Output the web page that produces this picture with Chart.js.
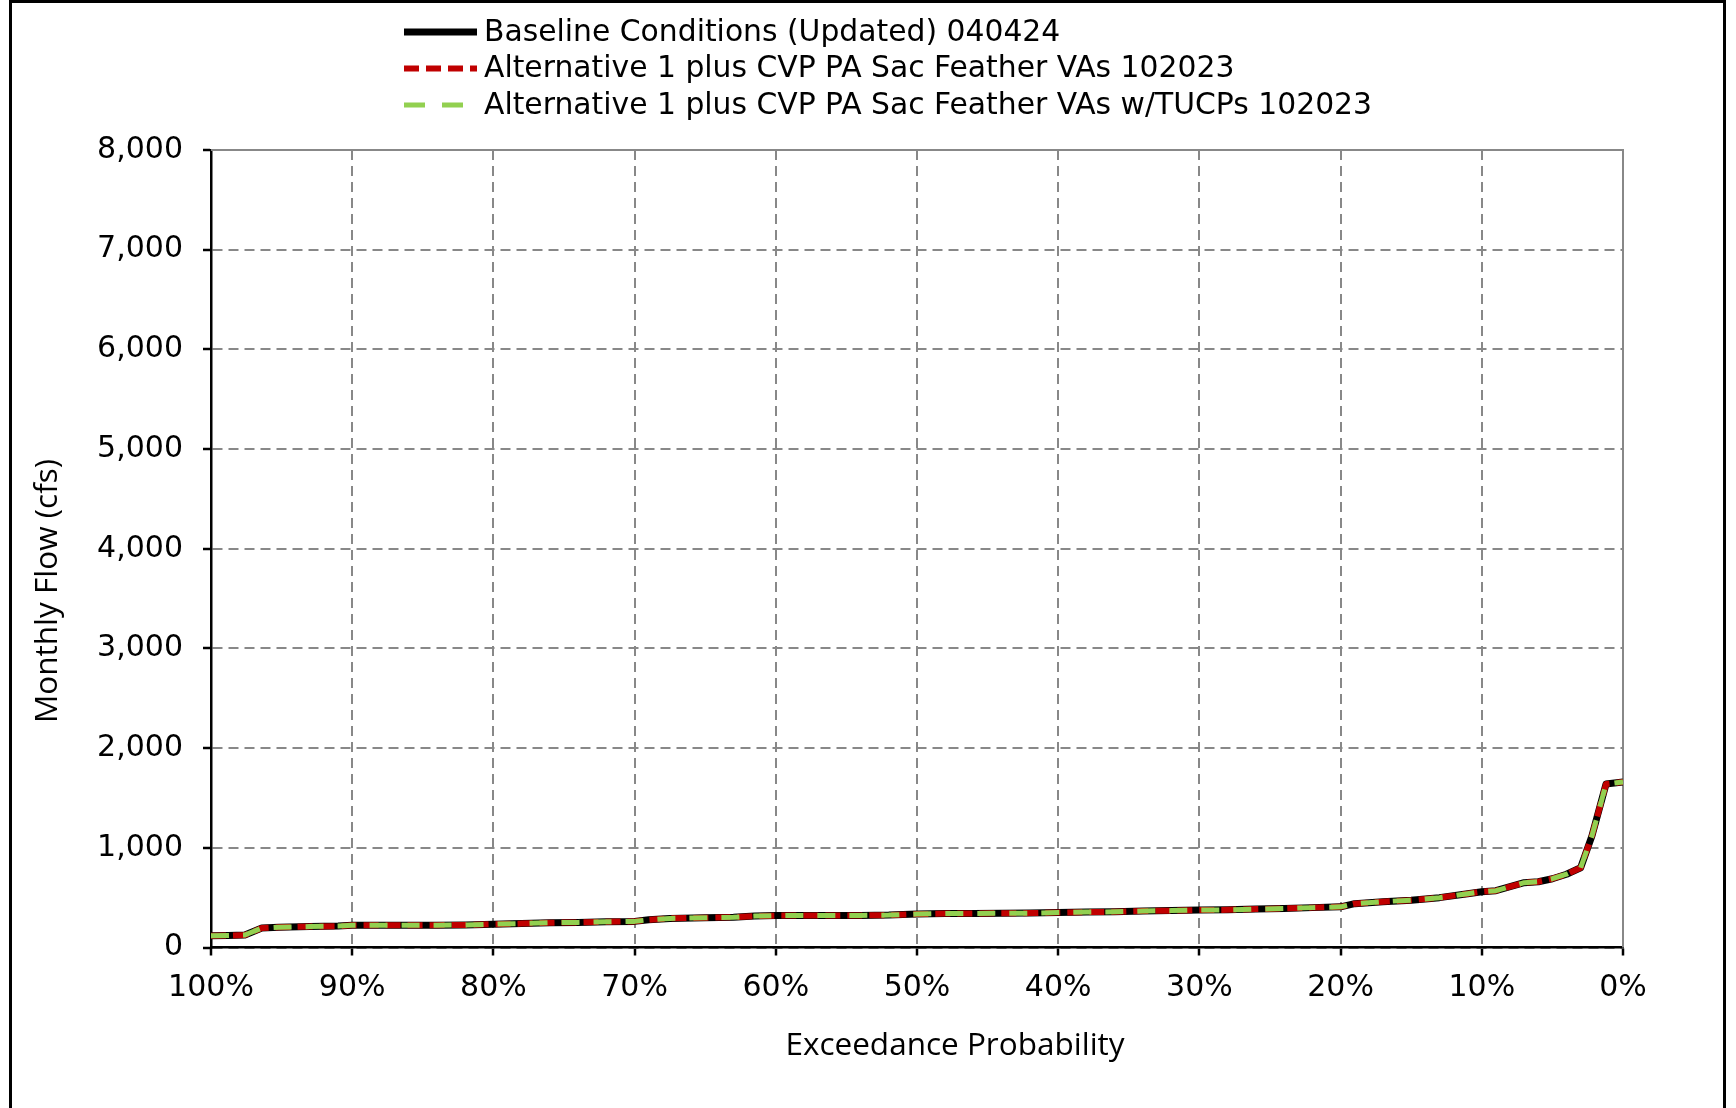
<!DOCTYPE html>
<html>
<head>
<meta charset="utf-8">
<title>Monthly Flow Exceedance</title>
<script src="https://cdn.jsdelivr.net/npm/chart.js@4.4.1/dist/chart.umd.min.js"></script>
<style>
  html, body { margin: 0; padding: 0; background: #fff; }
  canvas { display: block; }
</style>
</head>
<body>
<canvas id="chart" width="1736" height="1108"></canvas>
<script>
// Exceedance probability (%) for each sorted monthly value
const exceedance = [100, 98.8, 97.6, 96.4, 95.2, 93, 91, 90, 88, 86, 84, 82, 80, 78, 76, 74, 72, 70, 69, 67.5, 65, 63, 61.5, 60, 58, 56, 54, 52, 50, 48, 46, 44, 42, 40, 38, 36, 34, 32, 30, 28, 26, 24, 22, 20, 19, 17, 15, 13, 11, 10, 9, 8, 7, 6, 5, 4, 3, 2.2, 1.2, 0];

// Monthly flow (cfs)
const baseline = [118, 120, 125, 195, 203, 210, 215, 222, 222, 223, 224, 226, 234, 240, 248, 252, 258, 262, 278, 292, 298, 303, 315, 320, 320, 322, 322, 325, 335, 340, 342, 343, 345, 350, 355, 358, 366, 370, 375, 378, 385, 392, 400, 408, 440, 460, 475, 500, 540, 560, 570, 610, 650, 660, 690, 735, 800, 1120, 1640, 1660];
const alt1 = [118, 120, 125, 195, 203, 210, 215, 222, 222, 223, 224, 226, 234, 240, 248, 252, 258, 262, 278, 292, 298, 303, 315, 320, 320, 322, 322, 325, 335, 340, 342, 343, 345, 350, 355, 358, 366, 370, 375, 378, 385, 392, 400, 408, 440, 460, 475, 500, 540, 560, 570, 610, 650, 660, 690, 735, 800, 1120, 1640, 1660];
const alt1Tucp = [118, 120, 125, 195, 203, 210, 215, 222, 222, 223, 224, 226, 234, 240, 248, 252, 258, 262, 278, 292, 298, 303, 315, 320, 320, 322, 322, 325, 335, 340, 342, 343, 345, 350, 355, 358, 366, 370, 375, 378, 385, 392, 400, 408, 440, 460, 475, 500, 540, 560, 570, 610, 650, 660, 690, 735, 800, 1120, 1640, 1660];

const seriesNames = [
  'Baseline Conditions (Updated) 040424',
  'Alternative 1 plus CVP PA Sac Feather VAs 102023',
  'Alternative 1 plus CVP PA Sac Feather VAs w/TUCPs 102023'
];

const xTitle = 'Exceedance Probability';
const yTitle = 'Monthly Flow (cfs)';

const toPoints = vals => vals.map((v, i) => ({ x: exceedance[i], y: v }));

const TICK_FONT = { family: '"DejaVu Sans", Verdana, sans-serif', size: 30 };
const TITLE_FONT = '31.5px "Open Sans", "Segoe UI", sans-serif';
const LEGEND_FONT = '29.8px "DejaVu Sans", Verdana, sans-serif';

// Frame, plot border, legend and axis titles
const decorations = {
  id: 'decorations',
  beforeDraw(chart) {
    const ctx = chart.ctx;
    ctx.save();
    ctx.fillStyle = '#fff';
    ctx.fillRect(0, 0, chart.width, chart.height);
    ctx.strokeStyle = '#000';
    ctx.lineWidth = 3;
    ctx.beginPath();
    ctx.moveTo(10.5, chart.height);
    ctx.lineTo(10.5, 1.5);
    ctx.lineTo(1724.5, 1.5);
    ctx.lineTo(1724.5, chart.height);
    ctx.stroke();
    ctx.restore();
  },
  beforeDatasetsDraw(chart) {
    const { ctx, chartArea: a } = chart;
    ctx.save();
    ctx.strokeStyle = '#888';
    ctx.lineWidth = 2;
    ctx.beginPath();
    ctx.moveTo(a.left, a.top);
    ctx.lineTo(a.right, a.top);
    ctx.lineTo(a.right, a.bottom);
    ctx.stroke();
    ctx.restore();
  },
  afterDraw(chart) {
    const { ctx } = chart;
    ctx.save();
    // legend
    const rowsY = [32, 68.5, 105];
    ctx.font = LEGEND_FONT;
    ctx.textBaseline = 'middle';
    ctx.textAlign = 'left';
    chart.data.datasets.forEach((ds, i) => {
      const y = rowsY[i];
      ctx.strokeStyle = ds.borderColor;
      ctx.lineWidth = ds.borderWidth;
      ctx.setLineDash(ds.legendDash || []);
      ctx.lineCap = 'butt';
      ctx.beginPath();
      ctx.moveTo(404, y);
      ctx.lineTo(477, y);
      ctx.stroke();
      ctx.setLineDash([]);
      ctx.fillStyle = '#000';
      ctx.fillText(ds.label, 484, y + 1);
    });
    // axis titles
    ctx.font = TITLE_FONT;
    ctx.fillStyle = '#000';
    ctx.textAlign = 'center';
    ctx.fillText(xTitle, 955, 1046);
    ctx.translate(48, 591);
    ctx.rotate(-Math.PI / 2);
    ctx.fillText(yTitle, 0, 0);
    ctx.restore();
  }
};

new Chart(document.getElementById('chart'), {
  type: 'line',
  data: {
    datasets: [
      {
        label: seriesNames[0],
        data: toPoints(baseline),
        borderColor: '#000000',
        borderWidth: 7,
        order: 3
      },
      {
        label: seriesNames[1],
        data: toPoints(alt1),
        borderColor: '#c00000',
        borderWidth: 6,
        borderDash: [15, 7],
        legendDash: [15, 7],
        order: 2
      },
      {
        label: seriesNames[2],
        data: toPoints(alt1Tucp),
        borderColor: '#92d050',
        borderWidth: 5,
        borderDash: [18, 14],
        legendDash: [21, 17],
        order: 1
      }
    ]
  },
  options: {
    responsive: false,
    animation: false,
    devicePixelRatio: 1,
    elements: {
      point: { radius: 0 },
      line: { tension: 0, borderCapStyle: 'butt', borderJoinStyle: 'round' }
    },
    layout: { padding: { left: 0, top: 150, right: 113, bottom: 0 } },
    plugins: {
      legend: { display: false },
      tooltip: { enabled: false }
    },
    scales: {
      x: {
        type: 'linear',
        reverse: true,
        min: 0,
        max: 100,
        afterFit: s => { s.height = 160.5; },
        ticks: {
          stepSize: 10,
          color: '#000',
          font: TICK_FONT,
          padding: 15,
          maxRotation: 0,
          callback: v => v + '%'
        },
        grid: {
          color: '#888',
          lineWidth: 2,
          tickColor: '#000',
          tickLength: 8,
          tickWidth: 2.5
        },
        border: { color: '#000', width: 2.5, dash: [10, 6] }
      },
      y: {
        type: 'linear',
        min: 0,
        max: 8000,
        afterFit: s => { s.width = 211; },
        ticks: {
          stepSize: 1000,
          color: '#000',
          font: TICK_FONT,
          padding: 20,
          callback: v => v.toLocaleString('en-US')
        },
        grid: {
          color: '#888',
          lineWidth: 2,
          tickColor: '#000',
          tickLength: 8,
          tickWidth: 2.5
        },
        border: { color: '#000', width: 2.5, dash: [10, 6] }
      }
    }
  },
  plugins: [decorations]
});
</script>
</body>
</html>
